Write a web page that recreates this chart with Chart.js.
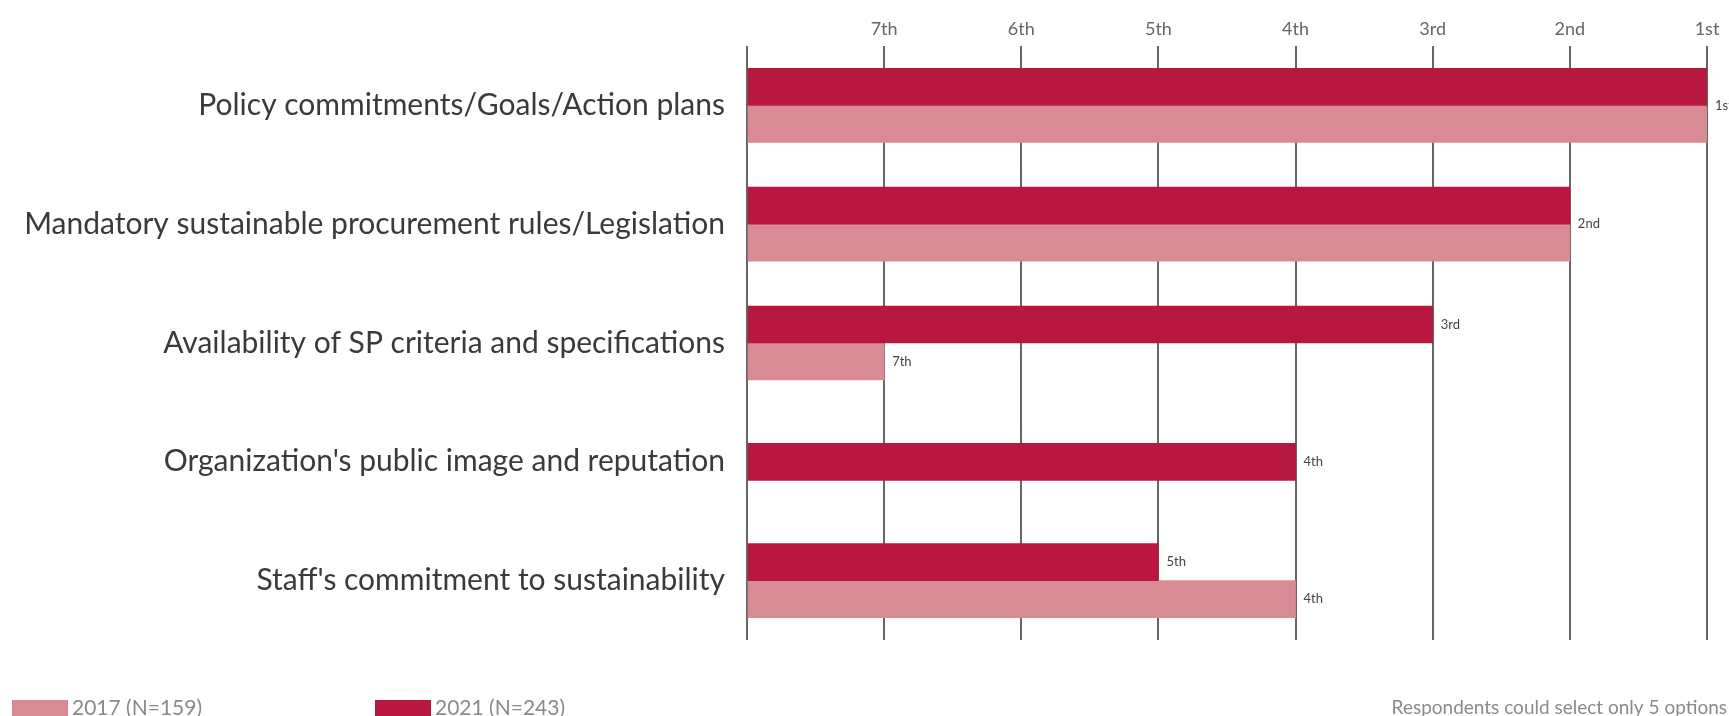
<!DOCTYPE html>
<html>
<head>
<meta charset="utf-8">
<script src="https://cdn.jsdelivr.net/npm/chart.js@4.4.0/dist/chart.umd.min.js"></script>
<style>
  html, body { margin: 0; padding: 0; background: #fff; }
  #wrap { position: relative; width: 1729px; height: 716px; }
</style>
</head>
<body>
<div id="wrap"><canvas id="myChart" width="1729" height="716"></canvas></div>
<script>
// drivers, top to bottom
var categories = [
    'Policy commitments/Goals/Action plans',
    'Mandatory sustainable procurement rules/Legislation',
    'Availability of SP criteria and specifications',
    "Organization's public image and reputation",
    "Staff's commitment to sustainability"
]
// rank of each driver (1 = most cited), null = not ranked
var rank2021 = [1, 2, 3, 4, 5]
var rank2017 = [1, 2, 7, null, 4]
// scale value -> tick label (value 0 is the left edge)
var rankLabels = ['', '7th', '6th', '5th', '4th', '3rd', '2nd', '1st']
var seriesNames = ['2021 (N=243)', '2017 (N=159)']
var note = 'Respondents could select only 5 options'

var dark = '#b8173f'
var light = '#d98b93'

function toValue(r) {
    return r == null ? null : rankLabels.length - r
}

// text at the end of the bars; one label when both years share a rank
var barLabels = {
    id: 'barLabels',
    afterDatasetsDraw(chart) {
        var ctx = chart.ctx
        var m0 = chart.getDatasetMeta(0)
        var m1 = chart.getDatasetMeta(1)
        ctx.save()
        ctx.font = '13px Lato'
        ctx.fillStyle = '#444'
        ctx.textAlign = 'left'
        ctx.textBaseline = 'middle'
        for (var i = 0; i < categories.length; i++) {
            var v0 = chart.data.datasets[0].data[i]
            var v1 = chart.data.datasets[1].data[i]
            if (v0 != null && v1 != null && v0 == v1) {
                var b0 = m0.data[i], b1 = m1.data[i]
                ctx.fillText(rankLabels[v0], b0.x + 8, (b0.y + b1.y) / 2)
            } else {
                if (v0 != null) ctx.fillText(rankLabels[v0], m0.data[i].x + 8, m0.data[i].y)
                if (v1 != null) ctx.fillText(rankLabels[v1], m1.data[i].x + 8, m1.data[i].y)
            }
        }
        ctx.restore()
    }
}

// legend (2017 first) and the note, along the bottom edge
var footer = {
    id: 'footer',
    afterDraw(chart) {
        var ctx = chart.ctx
        var y = 708
        var items = [
            { x: 12, ds: chart.data.datasets[1] },
            { x: 375, ds: chart.data.datasets[0] }
        ]
        ctx.save()
        ctx.font = '21px Lato'
        ctx.textBaseline = 'middle'
        items.forEach(function (it) {
            ctx.fillStyle = it.ds.backgroundColor
            ctx.fillRect(it.x, y - 8, 56, 16)
            ctx.fillStyle = '#8a8a8a'
            ctx.textAlign = 'left'
            ctx.fillText(it.ds.label, it.x + 60, y)
        })
        ctx.font = '19px Lato'
        ctx.textAlign = 'right'
        ctx.fillText(note, 1727, y)
        ctx.restore()
    }
}

var ctx = document.getElementById('myChart')
var myChart = new Chart(ctx, {
    type: 'bar',
    data: {
        labels: categories,
        datasets: [{
            label: seriesNames[0],
            data: rank2021.map(toValue),
            backgroundColor: dark
        }, {
            label: seriesNames[1],
            data: rank2017.map(toValue),
            backgroundColor: light
        }]
    },
    options: {
        indexAxis: 'y',
        responsive: false,
        animation: false,
        layout: { padding: { top: 4, right: 22, bottom: 76, left: 0 } },
        datasets: { bar: { barThickness: 37, skipNull: true } },
        plugins: {
            legend: { display: false },
            tooltip: { enabled: false }
        },
        scales: {
            x: {
                position: 'top',
                min: 0,
                max: 7,
                afterFit: function (s) { s.height = 42 },
                grid: { color: '#666', lineWidth: 2, drawTicks: false },
                border: { display: false },
                ticks: {
                    stepSize: 1,
                    padding: 6,
                    color: '#666',
                    font: { family: 'Lato', size: 18 },
                    callback: function (v) { return rankLabels[v] }
                }
            },
            y: {
                afterFit: function (s) { s.width = 747 },
                grid: { display: false },
                border: { display: false },
                ticks: {
                    padding: 14,
                    color: '#3a3a3a',
                    font: { family: 'Lato', size: 30 }
                }
            }
        }
    },
    plugins: [barLabels, footer]
})
</script>
</body>
</html>
